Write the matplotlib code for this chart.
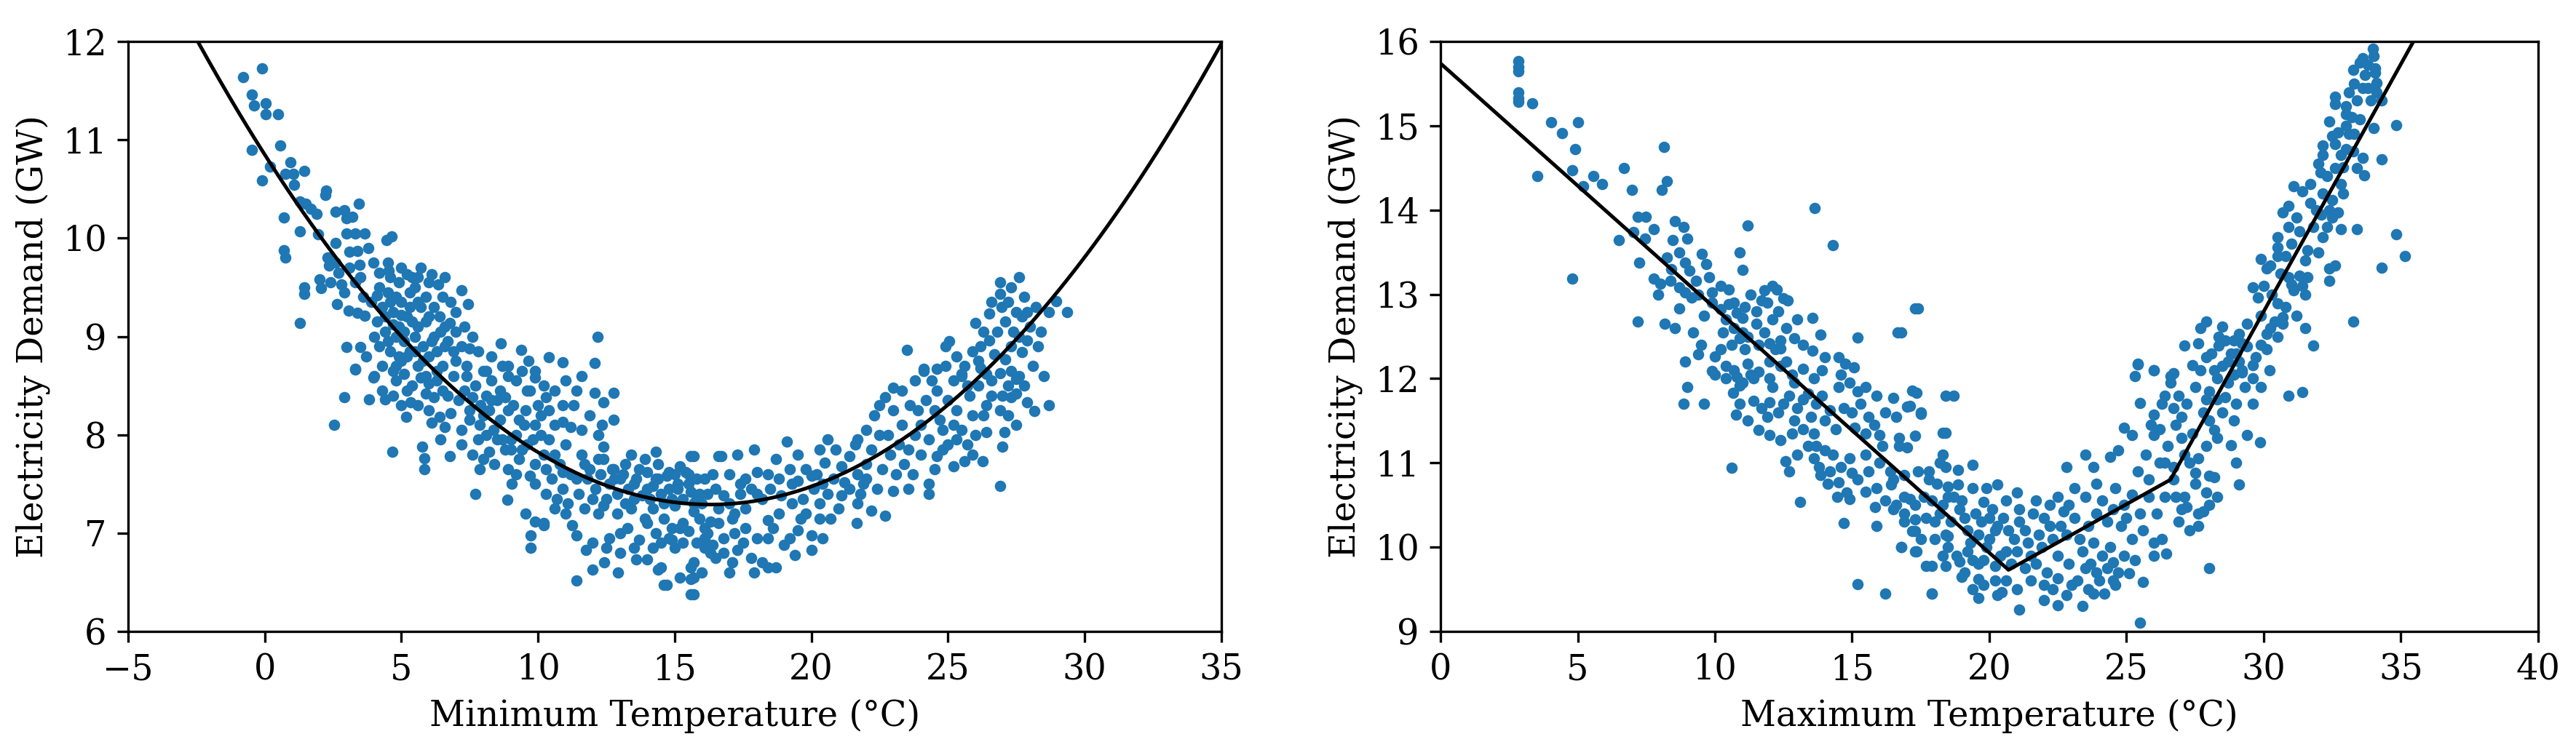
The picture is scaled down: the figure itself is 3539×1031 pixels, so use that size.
import matplotlib
matplotlib.use("Agg")
import matplotlib.pyplot as plt
import numpy as np

# ---------------- data ----------------
# Left panel: (minimum temperature degC, demand GW)
min_points = [
(-0.78,11.64),(-0.11,11.73),(-0.48,11.46),(-0.4,11.35),(0.03,11.37),(0.03,11.26),(0.5,11.26),(0.58,10.94),(-0.48,10.9),(0.19,10.73),
(0.95,10.77),(0.75,10.65),(1.05,10.65),(1.46,10.68),(-0.11,10.59),(1.07,10.54),(2.22,10.44),(2.25,10.48),(1.3,10.37),(1.5,10.35),
(1.7,10.3),(1.9,10.25),(0.7,10.21),(2.6,10.27),(2.9,10.28),(3.2,10.22),(3.0,10.2),(3.45,10.35),(1.29,10.07),(1.96,10.04),
(3.0,10.05),(3.3,10.05),(3.65,10.05),(4.45,9.98),(4.65,10.02),(0.7,9.88),(0.75,9.8),(2.6,9.95),(2.3,9.8),(2.35,9.72),
(2.6,9.75),(3.1,9.86),(3.4,9.87),(3.48,9.73),(3.99,9.75),(1.46,9.5),(1.46,9.43),(2.05,9.49),(2.0,9.58),(2.4,9.55),
(2.8,9.53),(3.3,9.55),(1.29,9.14),(2.64,9.33),(3.06,9.26),(3.4,9.24),(3.65,9.21),(3.0,8.89),(3.5,8.89),(3.3,8.67),
(4.2,9.65),(4.6,9.6),(4.55,9.67),(5.2,9.63),(5.7,9.7),(5.6,9.6),(6.1,9.63),(6.35,9.53),(7.2,9.47),(7.45,9.33),
(6.77,9.14),(6.6,9.1),(6.43,9.05),(4.2,9.5),(4.5,9.45),(4.8,9.4),(5.0,9.35),(4.3,9.3),(4.7,9.25),(5.2,9.2),
(4.9,9.1),(5.4,9.15),(4.4,9.05),(4.8,9.0),(5.1,8.95),(5.5,9.0),(4.6,8.85),(5.3,8.85),(5.0,8.75),(4.3,8.7),
(5.6,8.7),(4.0,8.6),(5.7,9.3),(5.9,9.4),(6.0,9.2),(3.9,9.35),(4.1,9.15),(5.5,9.5),(5.8,8.9),(6.0,8.8),
(6.3,8.85),(6.6,8.9),(6.9,8.85),(7.2,8.9),(7.5,8.88),(7.8,8.85),(7.0,8.75),(7.4,8.7),(6.5,8.7),(5.9,8.6),
(4.9,9.55),(5.3,9.45),(4.6,9.35),(5.1,9.05),(4.7,8.65),(6.2,9.0),(5.6,9.1),(4.9,8.8),
(8.63,8.93),(9.38,8.86),(10.4,8.79),(10.9,8.74),(12.08,8.73),(9.64,8.75),(12.17,9.0),(8.3,8.8),(8.9,8.7),(9.9,8.65),(8.1,8.65),
(3.31,8.66),(3.99,8.58),(2.9,8.38),(3.82,8.36),(4.4,8.36),(2.55,8.1),(4.66,7.83),(5.17,8.18),(5.34,8.33),
(4.8,8.55),(5.1,8.62),(5.4,8.5),(5.7,8.58),(6.0,8.52),(6.3,8.65),(6.5,8.45),(5.2,8.45),(5.9,8.42),
(6.0,8.25),(6.4,8.18),(6.8,8.22),(7.2,8.05),(6.6,8.08),(6.1,8.12),(5.76,7.88),(5.84,7.76),(5.84,7.65),(6.43,7.95),
(6.77,7.78),(7.19,7.9),(7.7,7.4),
(7.4,8.6),(7.7,8.5),(8.0,8.65),(8.3,8.55),(8.6,8.45),(8.9,8.6),(7.6,8.38),(8.1,8.4),(8.5,8.35),(7.9,8.3),(8.8,8.38),(7.3,8.45),(8.2,8.25),
(7.87,8.1),(8.1,8.0),(8.37,8.05),(7.87,7.65),(8.2,7.83),(8.79,7.85),(8.88,7.34),
(9.1,8.3),(9.55,8.25),(9.9,8.1),(9.3,8.15),(9.9,8.58),(10.3,8.38),(10.9,8.3),(11.4,8.45),(10.9,8.13),(11.2,8.08),
(11.6,8.05),(12.08,8.43),(12.4,8.33),(12.76,8.43),(12.76,8.15),(12.33,8.1),(9.6,8.45),(10.1,8.2),(10.6,8.1),
(8.7,7.95),(9.0,7.85),(9.3,7.75),(9.6,7.9),(9.9,7.7),(8.9,7.65),(9.2,7.6),(9.7,7.58),(9.05,7.5),(9.9,7.5),
(10.4,7.95),(10.6,7.8),(10.8,7.7),(11.0,7.9),(11.2,7.6),(10.5,7.55),(10.9,7.45),(11.7,7.7),(12.4,7.88),(12.4,7.75),
(12.76,7.65),(13.4,7.8),(14.3,7.83),(13.9,7.75),(15.6,7.78),(16.6,7.78),
(11.8,7.55),(12.1,7.45),(12.3,7.6),(12.6,7.5),(12.9,7.4),(13.1,7.6),(13.3,7.45),(13.6,7.55),(13.8,7.38),(14.0,7.62),
(14.2,7.48),(14.5,7.4),(14.7,7.58),(14.9,7.35),(15.1,7.5),(15.4,7.62),(15.6,7.42),(15.8,7.55),(12.0,7.35),(12.7,7.65),
(13.5,7.35),(14.4,7.7),(15.2,7.68),(11.5,7.4),(13.0,7.55),(14.1,7.35),
(9.55,7.2),(9.9,7.12),(10.2,7.08),(9.72,6.98),(9.72,6.85),(10.2,7.1),(11.24,7.08),(11.4,6.98),(11.75,6.83),(12.0,6.9),
(12.6,6.95),(13.26,7.05),(13.7,6.93),(12.42,6.7),(12.0,6.63),(12.93,6.6),(11.4,6.52),(13.6,6.73),(14.0,6.73),(14.4,6.63),
(14.6,6.47),(14.8,6.95),(15.3,6.9),(15.6,6.65),(15.6,6.53),(15.6,6.38),(16.1,6.93),(16.5,6.75),
(14.2,7.25),(14.6,7.15),(15.0,7.28),(15.3,7.1),(15.7,7.22),(16.0,7.3),(16.3,7.12),(16.6,7.25),(14.9,7.05),(15.5,7.02),(16.2,7.0),
(12.4,7.28),(12.9,7.2),(13.4,7.25),(13.9,7.15),(10.6,7.25),(11.0,7.2),(13.0,7.0),(14.3,7.0),
(23.0,8.48),(24.1,8.65),(24.4,8.55),(24.6,8.45),(24.9,8.7),(25.2,8.55),(25.5,8.62),(25.8,8.4),(26.1,8.5),(26.4,8.3),
(25.3,8.25),(25.9,8.2),(26.2,8.68),(26.9,8.63),(27.2,8.5),(27.5,8.42),(27.9,8.33),(27.3,8.38),(27.6,8.6),(28.15,8.24),
(26.4,8.03),(27.07,8.03),(27.0,7.88),(26.9,7.48),(26.26,7.73),(25.9,7.8),(25.2,7.68),(25.6,7.73),(24.6,7.78),(24.3,7.5),
(24.3,7.4),(23.55,7.45),(23.0,7.43),(22.3,8.2),
(22.7,8.38),(23.0,8.25),(23.3,8.1),(23.6,8.3),(23.8,8.0),(23.2,7.9),(22.5,8.0),(22.9,7.8),(23.4,7.7),(23.55,7.85),
(24.0,8.1),(24.3,7.95),(24.8,8.05),(25.0,7.9),(24.5,8.25),(25.5,8.05),
(22.2,7.23),(22.7,7.18),(21.66,7.1),(21.8,7.4),(21.1,7.38),(20.6,7.95),(19.1,7.93),
(20.2,7.6),(20.5,7.72),(20.8,7.55),(21.1,7.68),(21.4,7.78),(21.7,7.6),(21.9,7.5),(20.4,7.5),(21.2,7.52),(22.0,7.7),
(22.2,7.85),(21.6,7.9),
(19.8,7.65),(18.4,7.6),(18.8,7.55),(19.2,7.65),(19.5,7.53),(20.0,7.58),(18.0,7.62),
(17.3,7.8),(16.7,7.78),(15.7,7.78),
(14.4,7.55),(14.8,7.62),(15.1,7.45),(15.5,7.6),(15.9,7.4),(16.1,7.55),(16.5,7.45),(17.0,7.6),(17.4,7.5),(17.8,7.45),
(15.7,7.3),(15.9,7.15),(16.1,7.05),(17.1,7.15),(18.4,7.13),(20.3,7.3),(20.3,7.15),(20.7,7.15),(19.5,7.03),(20.0,6.98),
(20.4,6.95),(20.0,6.83),(19.0,6.88),(18.4,6.95),(17.6,7.05),(18.0,6.95),(17.3,6.83),(17.8,6.75),(18.2,6.7),(18.4,6.65),
(17.9,6.6),(18.7,6.65),(16.4,6.88),(16.8,6.8),(17.1,6.7),(16.1,6.95),(16.1,6.85),(14.9,6.93),(15.7,6.7),(15.7,6.55),
(14.7,6.47),(15.7,6.38),(14.5,6.65),
(17.0,7.3),(17.6,7.25),(18.2,7.35),(18.8,7.2),(19.3,7.3),(19.8,7.2),(17.4,7.4),(16.6,7.1),
(27.6,9.6),(26.9,9.43),(27.2,9.35),(27.5,9.25),(27.8,9.4),(27.1,9.15),(27.4,9.05),(27.7,9.2),(27.9,8.96),(26.95,9.3),
(28.96,9.36),(28.7,9.25),(29.36,9.25),(26.5,9.23),(26.0,9.14),(26.3,9.05),(26.5,8.96),(25.04,8.95),(23.5,8.86),(24.1,8.67),
(24.6,8.67),(24.9,8.9),(25.3,8.8),(25.6,8.7),(25.9,8.85),(25.5,8.6),(27.7,8.84),(27.1,8.77),(27.3,8.65),(27.5,8.57),
(26.1,8.75),(26.7,8.82),(26.4,8.62),
# denser cores
(2.7,9.65),(3.1,9.7),(3.5,9.6),(3.8,9.9),(2.9,9.45),(3.6,9.4),
(4.1,9.42),(4.4,9.2),(4.7,9.12),(5.0,9.22),(5.3,9.3),(5.6,9.35),(5.9,9.15),(6.2,9.3),(6.5,9.4),(6.8,9.35),
(4.2,8.9),(4.5,8.95),(4.8,8.7),(5.2,8.8),(5.5,8.85),(5.8,8.75),(6.1,8.95),(6.4,9.2),(6.7,8.95),(7.0,9.05),
(4.0,9.0),(3.7,8.8),(4.5,9.75),(5.0,9.7),(5.4,9.6),(6.0,9.55),(6.6,9.6),(7.0,9.25),(6.3,8.55),(6.9,8.6),
(7.3,9.1),(7.6,9.0),(4.3,8.45),(4.7,8.4),(5.0,8.3),(5.6,8.3),(6.2,8.38),(6.7,8.4),(7.1,8.35),(7.5,8.25),
(7.5,8.15),(7.8,7.95),(8.0,8.2),(8.3,8.35),(8.6,8.15),(8.9,8.25),(9.2,8.0),(9.5,8.1),(9.8,7.95),(10.1,8.0),
(8.5,7.95),(8.4,7.7),(9.0,7.95),(9.4,7.85),(7.6,7.8),(8.0,7.75),(10.2,7.8),(10.0,8.3),(9.7,8.45),(9.2,8.55),
(8.7,8.7),(9.4,8.65),(10.2,8.5),(10.6,8.45),(11.0,8.55),(11.6,8.6),(11.9,8.2),(12.2,8.0),(11.3,8.3),(10.4,8.25),
(10.3,7.4),(10.7,7.35),(11.1,7.3),(11.4,7.55),(11.6,7.8),(11.9,7.65),(12.2,7.75),(12.5,7.35),(12.8,7.55),(13.2,7.7),
(13.5,7.5),(13.7,7.65),(14.0,7.45),(14.3,7.55),(14.6,7.3),(14.8,7.45),(15.0,7.6),(15.3,7.35),(15.5,7.5),(15.8,7.35),
(16.2,7.4),(16.4,7.6),(16.8,7.38),(13.2,7.3),(12.2,7.2),(11.7,7.25),(10.9,7.62),(10.3,7.65),
(14.0,7.1),(14.5,6.9),(15.0,6.85),(15.2,7.05),(15.8,6.9),(16.3,6.8),(16.8,6.95),(17.2,7.0),(17.5,6.9),(18.6,7.05),
(19.2,6.95),(19.6,7.15),(14.2,6.85),(13.5,6.85),(13.0,6.8),(12.5,6.85),(17.0,6.6),(16.0,6.6),(15.2,6.55),(19.4,6.78),
(17.2,7.2),(17.6,7.55),(18.0,7.4),(18.5,7.45),(18.9,7.38),(19.3,7.5),(19.7,7.35),(20.1,7.45),(20.6,7.4),(21.0,7.25),
(21.4,7.45),(21.7,7.3),(22.0,7.55),(22.4,7.45),(22.6,7.65),(20.9,7.85),(18.7,7.75),(19.5,7.8),(20.3,7.85),(17.9,7.85),
(22.8,8.0),(23.1,7.6),(23.7,7.6),(24.0,7.8),(24.5,7.65),(24.8,7.85),(25.3,7.95),(25.7,7.9),(26.0,8.0),(26.3,8.2),
(26.6,8.4),(26.9,8.25),(27.2,8.2),(27.5,8.1),(27.8,8.5),(28.1,8.7),(28.3,8.9),(28.0,9.1),(27.6,9.0),(27.3,8.9),
(26.8,9.05),(26.2,8.9),(25.7,8.5),(25.0,8.35),(24.7,8.15),(24.2,8.35),(23.8,8.55),(23.3,8.45),(25.2,8.1),(26.6,8.55),
(27.0,8.4),(27.9,9.25),(28.2,9.3),(26.6,9.35),(26.9,9.55),(27.3,9.5),(28.5,8.6),(28.7,8.3),(28.4,9.05),(22.0,8.05),
(21.7,7.95),(22.5,8.3),(23.9,8.25),
]

# Right panel: (maximum temperature degC, demand GW)
max_points = [
(2.85,15.77),(2.85,15.7),(2.85,15.65),(2.85,15.4),(2.85,15.33),(2.85,15.28),(3.34,15.27),(4.04,15.04),(5.0,15.04),(4.42,14.91),
(4.9,14.72),(3.54,14.4),(4.8,14.47),(5.58,14.4),(5.89,14.31),(5.2,14.28),(6.68,14.5),(6.97,14.24),(8.06,14.24),(8.24,14.34),
(8.13,14.75),(7.18,13.92),(7.48,13.92),(7.03,13.74),(7.78,13.77),(6.5,13.64),(7.45,13.66),(8.47,13.64),(8.54,13.87),(8.85,13.8),
(9.0,13.66),(11.2,13.82),(13.63,14.02),(14.3,13.58),(10.9,13.5),(11.0,13.29),(9.53,13.48),(9.68,13.36),(7.25,13.38),(8.24,13.44),
(8.92,13.38),(9.07,13.28),(9.3,13.16),(4.8,13.19),(7.78,13.19),(8.0,13.13),(8.39,13.16),(7.93,13.0),(8.7,13.08),(8.9,13.02),
(9.15,12.96),(9.9,13.02),(10.5,13.06),(12.1,13.1),(12.26,13.06),(11.7,12.93),(11.9,12.9),(12.64,12.93),(8.7,12.83),(9.9,12.9),
(10.2,12.82),(10.5,12.88),(10.8,12.78),(11.1,12.85),(17.3,12.83),(7.18,12.68),(8.16,12.65),(8.54,12.6),(13.55,12.72),(13.85,12.52),
(15.2,12.49),(16.66,12.55),
(10.4,12.7),(10.7,12.6),(11.0,12.72),(11.2,12.5),(11.5,12.65),(11.8,12.55),(12.1,12.7),(12.4,12.45),(12.6,12.6),(10.6,12.4),
(11.1,12.35),(11.6,12.4),(12.2,12.35),(10.9,12.48),
(9.38,12.29),(10.0,12.26),(12.0,12.42),(12.4,12.36),(12.9,12.48),(13.2,12.4),(13.55,12.33),(14.0,12.25),(14.5,12.25),(14.76,12.18),
(15.07,12.13),
(10.0,12.05),(10.4,12.15),(10.8,12.02),(11.2,12.18),(11.6,12.08),(12.0,12.0),(12.4,12.15),(12.8,12.05),(13.2,12.12),(13.6,12.0),
(11.4,12.0),(12.6,12.2),
(9.9,12.09),(9.0,11.9),(8.85,11.7),(9.6,11.7),(10.6,10.94),(10.77,11.57),(10.67,11.83),
(10.4,12.0),(10.7,12.1),(11.0,11.95),(11.3,12.05),(10.9,11.92),
(11.4,11.74),(11.7,11.65),(12.0,11.72),(12.3,11.6),(12.5,11.7),(11.6,11.39),(12.0,11.33),(12.4,11.27),(12.56,11.02),(13.1,10.54),
(14.46,10.6),(14.9,10.57),(14.7,10.29),(15.2,9.56),(16.2,9.45),(17.9,9.45),
(12.7,11.8),(13.0,11.65),(13.2,11.75),(13.5,11.55),(13.7,11.7),(14.0,11.5),(14.2,11.62),(12.9,11.5),(13.4,11.82),(13.9,11.8),
(13.4,11.2),(13.6,11.05),(13.8,10.95),(14.0,11.15),(14.2,10.9),(13.85,10.86),
(14.5,11.9),(14.9,11.95),(15.2,11.85),(15.5,11.9),
(15.1,11.42),(15.5,11.35),(15.8,11.45),(16.0,11.33),
(14.3,11.1),(14.6,10.95),(14.9,11.05),(15.2,10.8),(14.5,10.77),(15.0,10.88),
(15.83,10.48),(15.9,10.25),(15.5,10.66),(16.0,11.0),(16.4,10.9),(16.9,10.86),(16.43,10.74),(16.6,10.5),(16.9,10.4),(17.1,10.57),
(17.3,10.33),(17.2,10.19),(16.8,10.0),(17.34,9.95),(17.5,10.1),(17.7,9.78),
(17.34,11.83),(16.5,11.77),(17.0,11.67),(17.5,11.58),(16.6,11.55),(16.7,11.3),(16.7,11.2),(17.3,11.32),(17.0,11.18),(18.3,11.36),
(18.3,11.1),
(17.8,10.9),(18.1,10.75),(18.4,10.95),(17.9,10.55),(18.2,10.4),(18.5,10.6),(18.0,10.3),
(18.4,11.8),(18.4,9.78),
(17.2,11.86),(18.7,11.8),(18.4,11.36),(17.5,11.6),(17.1,11.68),(18.85,10.92),(19.4,10.98),(20.3,10.74),(18.86,10.74),
(17.4,10.9),(17.8,10.8),(18.2,11.0),(18.5,10.72),
(16.5,10.45),(16.9,10.3),(17.3,10.5),(17.7,10.35),(16.5,10.8),(16.8,10.0),(17.3,10.19),(17.3,9.95),(17.9,9.45),(17.9,9.78),
(18.3,10.5),(18.6,10.3),(18.9,10.45),(19.2,10.2),(19.5,10.4),(18.4,10.15),(19.0,10.55),(19.6,10.15),
(19.8,10.54),(18.5,10.13),(18.5,10.0),(18.9,9.83),
(18.8,9.9),(19.1,9.7),(19.4,9.85),(19.6,9.62),(19.2,9.95),
(19.7,10.3),(20.0,10.1),(20.3,10.25),(20.6,9.95),(20.9,10.1),(19.8,9.85),(20.2,9.78),(20.5,10.35),(20.8,9.8),(20.1,10.45),
(19.0,9.65),(19.4,9.5),(19.8,9.55),(20.2,9.6),(20.45,9.47),(20.3,9.43),(21.1,9.26),(21.1,10.45),(21.1,10.3),
(21.3,10.2),(21.6,10.4),(21.9,10.0),(22.2,10.25),(22.5,9.9),(22.8,10.15),(23.1,10.35),(23.4,9.95),(21.5,9.9),(22.0,10.35),
(22.7,10.42),(23.3,10.1),(21.8,10.15),(23.6,10.25),
(22.0,9.37),(22.5,9.31),(23.4,9.3),(22.5,9.63),(22.8,9.43),(21.5,9.6),(22.0,9.55),
(23.7,9.8),(24.0,9.6),(24.3,9.75),(24.6,9.55),(23.9,9.7),(24.5,9.82),
(23.8,9.45),(25.1,9.69),(25.6,9.59),(25.5,9.1),
(22.8,10.95),(23.5,11.1),(23.8,10.95),(22.5,10.6),(23.1,10.7),(23.5,10.6),(23.9,10.75),(24.1,10.55),(24.4,11.07),(24.7,11.15),
(24.9,11.42),(25.2,11.33),
(24.6,10.7),(24.9,10.5),(25.2,10.62),(24.8,10.25),(25.2,10.1),(25.6,10.2),(26.0,10.05),(26.0,9.9),(26.45,9.92),(26.3,10.1),
(25.4,10.9),(25.8,10.8),(26.2,11.0),(25.5,11.71),(26.0,11.57),(26.0,11.33),(26.4,11.8),(26.7,11.65),
(26.2,11.4),(26.5,11.2),(26.8,11.45),(27.1,11.1),(27.4,11.35),(26.4,11.0),(27.0,11.55),(27.6,11.05),(26.7,10.95),
(26.7,10.8),(27.1,10.6),(27.5,10.75),(27.2,10.48),(27.6,10.4),(28.0,10.5),(27.6,10.25),(28.0,9.75),(28.2,10.83),(28.3,11.3),
(28.2,11.39),(28.0,11.5),(28.5,11.6),(28.8,11.21),(29.0,11.0),(29.1,10.74),(29.4,11.33),(29.86,11.24),
(27.7,12.1),(28.0,11.85),(28.3,12.0),(28.6,11.78),(28.9,12.05),(27.9,11.75),(28.5,12.15),
(26.6,12.03),(26.0,12.1),(25.3,12.03),(25.4,12.18),(29.2,12.1),(29.6,12.0),(30.9,11.8),(31.4,11.84),(28.9,11.5),(29.0,11.7),
(27.5,10.88),(28.0,10.85),(27.8,10.42),(26.9,10.3),(27.3,10.2),
(33.97,15.91),(34.0,15.83),(33.6,15.8),(33.8,15.72),(34.05,15.68),(33.26,15.66),(34.05,15.63),(34.1,15.51),(34.1,15.4),(33.8,15.45),
(34.3,15.3),(33.9,15.3),(32.6,15.34),(32.6,15.26),(33.0,15.23),(33.0,15.14),
(32.4,15.05),(32.7,14.92),(33.0,15.0),(33.3,14.9),(33.5,15.08),(32.5,14.88),
(34.0,14.97),(34.84,15.01),(32.15,14.77),(32.15,14.65),(32.6,14.78),(33.0,14.72),(33.26,14.7),(33.6,14.62),(34.3,14.6),(32.9,14.51),
(33.65,14.41),(32.07,14.45),(32.8,14.31),(31.7,14.31),(31.1,14.28),(31.4,14.22),(32.15,14.2),(32.5,14.12),(31.7,14.08),(30.9,14.05),
(30.7,13.97),(31.2,13.91),(32.5,13.91),(32.7,13.97),(32.3,13.8),(32.8,13.77),(33.4,13.77),(30.9,13.8),(30.5,13.68),(32.15,13.68),
(34.84,13.71),(30.5,13.56),(30.5,13.45),(31.6,13.52),(29.9,13.42),(30.25,13.34),(35.15,13.45),(34.3,13.32),(32.4,13.31),(32.6,13.34),
(32.4,13.16),
(30.9,13.2),(31.1,13.05),(31.3,13.22),(31.5,13.0),(31.0,13.12),(31.4,13.1),
(30.1,13.31),(29.6,13.08),(29.8,12.96),(30.5,12.89),(33.26,12.68),(30.7,12.73),(30.7,12.65),(30.4,12.68),(27.9,12.68),(27.7,12.6),
(28.5,12.62),(28.35,12.5),(29.1,12.53),(28.9,12.45),(30.1,12.53),(30.25,12.6),(31.8,12.39),(27.1,12.39),(27.6,12.42),(28.35,12.39),
(28.8,12.3),(29.1,12.2),(29.4,12.38),(29.7,12.25),(29.9,12.4),(29.2,12.42),
(25.4,12.17),(26.0,12.1),(26.7,12.06),(27.4,12.16),(27.9,12.25),(28.2,12.1),(28.7,12.2),(29.2,12.07),(29.6,12.16),
(17.4,12.83),(16.8,12.55),
# denser cores
(8.4,13.3),(8.7,13.5),(9.4,13.0),(9.6,12.75),(9.8,13.2),(10.2,13.1),(10.3,12.55),(10.7,12.9),(11.3,13.0),(11.5,12.8),
(11.0,12.55),(12.3,12.8),(12.0,12.2),(9.2,12.55),(9.5,12.4),(8.9,12.2),(10.2,12.35),(11.8,13.05),(12.5,12.95),(13.0,12.7),
(10.9,11.7),(11.2,11.5),(11.9,11.55),(12.1,11.9),(12.8,11.35),(13.2,11.4),(13.6,11.35),(14.4,11.4),(14.7,11.65),(15.0,11.6),
(15.3,11.7),(15.6,11.55),(15.9,11.8),(16.2,11.6),(14.6,12.05),(13.9,12.1),(12.9,11.95),(13.7,11.2),(14.1,10.75),(14.8,10.65),
(15.6,10.9),(15.9,10.7),(16.2,10.55),(16.1,11.2),(15.5,11.1),(13.0,11.1),(12.7,10.9),
(16.9,10.6),(17.6,10.6),(18.0,10.1),(18.3,9.9),(18.7,10.6),(19.1,10.35),(19.3,10.05),(19.6,9.8),(19.9,10.0),(20.2,10.2),
(20.4,9.9),(20.7,10.2),(21.0,9.95),(20.0,10.35),(19.4,10.7),(19.9,10.7),(20.6,10.55),(21.0,10.65),(19.6,9.4),(20.6,9.6),
(21.3,9.75),(21.0,9.5),
(21.4,10.05),(21.7,9.8),(22.1,9.7),(22.3,10.1),(22.6,10.25),(22.9,9.8),(23.2,9.6),(23.5,9.75),(23.8,10.05),(24.1,9.9),
(24.4,10.0),(24.7,9.7),(24.9,9.9),(22.3,9.5),(23.0,9.55),(23.6,9.5),(24.2,9.45),(24.5,9.6),(22.9,10.5),(22.2,10.5),
(21.7,10.55),(24.3,10.3),(23.9,10.4),(24.5,10.45),(25.0,10.35),(25.3,9.85),
(25.5,10.4),(25.8,10.6),(26.1,10.4),(26.4,10.6),(25.7,11.1),(25.9,11.45),(26.3,11.7),(26.6,11.95),(26.9,11.8),(27.2,11.7),
(27.5,11.9),(27.8,11.6),(27.0,11.3),(27.3,11.0),(27.9,11.2),(28.3,11.75),(28.7,11.95),(28.1,12.3),(28.6,12.45),(29.0,12.3),
(29.3,11.9),(29.6,11.7),(29.9,11.9),(30.2,12.1),(30.1,12.35),(30.5,12.5),(29.4,12.65),(29.9,12.75),(26.8,10.6),(27.0,10.45),
(27.9,10.65),(28.3,10.6),
(30.0,13.1),(30.3,13.0),(30.6,13.25),(30.8,13.45),(31.0,13.6),(31.3,13.75),(31.5,13.4),(31.8,13.8),(31.9,14.0),(32.1,13.95),
(32.0,14.55),(32.3,14.4),(32.6,14.5),(32.8,14.65),(33.1,14.9),(33.2,15.1),(33.4,15.3),(33.6,15.45),(33.7,15.6),(33.3,15.5),
(31.6,13.2),(30.8,12.85),(31.2,12.75),(31.5,12.6),(32.4,14.0),(32.9,14.2),(33.4,14.5),(33.1,15.4),(33.5,15.75),(32.0,13.5),
]

# Fitted curve of the left panel: quadratic coefficients (highest power first)
min_fit_coef = [0.0134, -0.4368, 10.850]
# Fitted piecewise-linear line of the right panel: its vertices
max_fit_x = [0.0, 20.7, 26.6, 36.0]
max_fit_y = [15.74, 9.73, 10.8, 16.32]

min_xticks = [-5, 0, 5, 10, 15, 20, 25, 30, 35]
min_yticks = [6, 7, 8, 9, 10, 11, 12]
max_xticks = [0, 5, 10, 15, 20, 25, 30, 35, 40]
max_yticks = [9, 10, 11, 12, 13, 14, 15, 16]

# ---------------- drawing ----------------
plt.rcParams['font.family'] = ['DejaVu Serif']
plt.rcParams['font.size'] = 11.5

fig = plt.figure(figsize=(3539 / 300, 1031 / 300), dpi=300)
ax1 = fig.add_axes([0.0497, 0.1581, 0.4244, 0.7866])
ax2 = fig.add_axes([0.5592, 0.1581, 0.4261, 0.7866])

blue = '#1f77b4'

mx, my = zip(*min_points)
ax1.scatter(mx, my, s=14, color=blue, linewidths=0, zorder=2)
xs = np.linspace(-5, 35, 400)
ax1.plot(xs, np.polyval(min_fit_coef, xs), color='black', lw=1.2, zorder=3)
ax1.set_xlim(-5, 35)
ax1.set_ylim(6, 12)
ax1.set_xticks(min_xticks)
ax1.set_yticks(min_yticks)
ax1.set_xlabel('Minimum Temperature (°C)')
ax1.set_ylabel('Electricity Demand (GW)')

Mx, My = zip(*max_points)
ax2.scatter(Mx, My, s=14, color=blue, linewidths=0, zorder=2)
ax2.plot(max_fit_x, max_fit_y, color='black', lw=1.2, zorder=3)
ax2.set_xlim(0, 40)
ax2.set_ylim(9, 16)
ax2.set_xticks(max_xticks)
ax2.set_yticks(max_yticks)
ax2.set_xlabel('Maximum Temperature (°C)')
ax2.set_ylabel('Electricity Demand (GW)')

fig.savefig('out.png', dpi=300)
